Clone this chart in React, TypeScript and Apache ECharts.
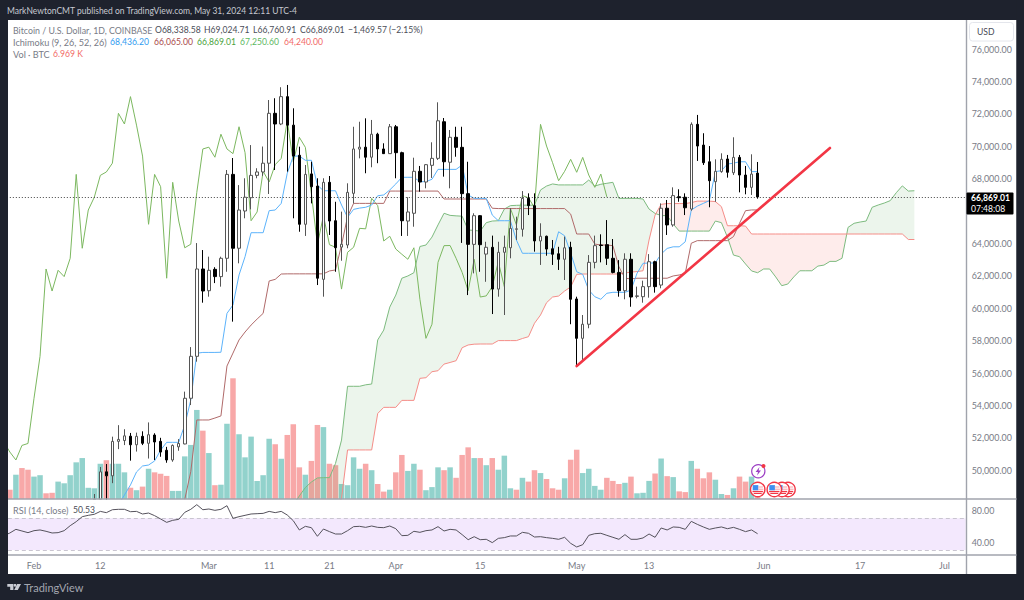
import React, { useEffect, useRef } from "react";
import * as echarts from "echarts";

const FONT = "Lato, 'Open Sans', sans-serif";

// Day numbers count from 1 Feb 2024 = 0; the axis runs from day -5 to day 154.
const FIRST_DAY = -5;
const DAY_COUNT = 160;

const tickDates = ["2024-02-01","2024-02-12","2024-03-01","2024-03-11","2024-03-21","2024-04-01","2024-04-15","2024-05-01","2024-05-13","2024-06-01","2024-06-17","2024-07-01"];
const tickLabels = ["Feb","12","Mar","11","21","Apr","15","May","13","Jun","17","Jul"];

// Candles, from day 10 to day 120
const CANDLE_START = 10;
const opens = [48000,48200,49900,49650,51780,51830,52100,51570,52090,51660,52170,51780,51230,50630,51440,51620,54440,57030,62420,61080,62400,61950,63080,68260,63700,66000,66820,68200,68410,68950,72030,71370,73060,71300,69440,65180,68290,67540,61780,67770,65400,63770,63900,67090,69820,69940,69320,70740,69830,69540,71200,69600,65380,65860,68450,67790,68820,69250,71510,69010,70550,69930,67070,63940,65710,63340,63760,61180,63450,63730,64870,64870,66780,66330,64150,64440,63670,63360,63020,63760,60570,58140,59010,62830,63900,63920,63080,62210,61080,63020,60730,60710,61330,62870,61430,66170,65140,66880,66850,66120,71350,70070,69040,67810,68430,69210,68360,69310,68220,67460,68338.58];
const closes = [48200,49900,49650,51780,51900,52120,51570,52090,51660,52190,51740,51120,50630,51530,51650,54440,57030,62420,61060,62340,61950,63080,68260,63700,66060,66850,68200,68410,68950,72030,71370,73060,71300,69390,65180,68260,67500,61850,67770,65380,63730,63950,67150,69830,69940,69320,70740,69830,69540,71200,69600,65400,65940,68450,67790,68860,69250,71570,69040,70550,69930,67070,63940,65710,63920,63760,61180,63450,63760,64930,64900,66780,66330,64150,64440,63650,63330,63020,63730,60550,58140,59010,62830,63860,63870,63080,62210,61080,63020,60690,60760,61330,62870,61330,66170,65140,66950,66820,66200,71350,70010,68980,67870,68450,69190,68390,69310,68220,67460,68280,66869.01];
const lows = [48000,48000,48000,49200,51300,51550,50590,51150,51550,50720,50630,50830,50460,50520,51200,51600,54020,56700,60340,60710,61550,61330,62250,59170,62770,65550,66100,68020,68170,67050,68530,71300,68430,65550,64720,64460,66470,61430,60710,64520,62250,62930,63700,66470,69250,68330,68700,68950,69520,69520,68020,64460,64460,65030,67190,67400,68040,69150,68120,67400,69350,64030,60810,62150,62250,61630,59640,60710,59580,63080,64210,64420,65750,63490,62670,63240,62670,62360,61740,59010,56430,56700,58760,62460,62830,62670,62150,60710,60550,60090,60610,60340,60650,60960,61230,64520,65030,66570,65750,66020,69090,68840,66230,66570,68360,68060,68220,67150,67030,66990,66760.91];
const highs = [48530,50200,50380,52070,52780,52530,52300,52320,52400,52950,52280,52000,51440,51590,51920,54850,57600,64020,63590,63180,62530,63180,68530,69270,67600,68020,70070,68640,69980,72850,72960,73640,73780,72340,69970,68840,69040,68020,68020,68160,66570,65960,67710,71200,71510,71720,71620,70830,70180,71370,71310,69660,66850,69290,68780,68900,70240,72710,71740,71000,71200,71200,69040,65860,65750,64100,64480,64100,64480,66170,65650,67230,67090,67090,65240,64480,64210,63790,64420,64100,60710,59580,63280,64480,64560,65440,64270,62970,63390,63390,61330,61700,63340,62930,66470,66680,67460,67340,67090,71470,71930,70800,70010,69190,69560,69460,70550,69460,68780,69500,69024.71];

// Ichimoku conversion line, from day 14
const CONVERSION_START = 14;
const conversionLine = [47850,48470,49090,49890,50260,50320,50570,51240,51720,51720,51720,52790,54330,57220,57270,57270,57270,57280,59680,60200,62050,63180,64660,64660,64660,66020,66060,66470,68330,69390,69390,69130,69130,67600,67250,67250,67250,66370,65610,66100,66180,66230,66370,66940,66990,67300,67670,68080,68080,68080,67810,67810,67960,68570,68570,68570,68570,68840,66990,66780,66780,66780,65750,65400,65400,65400,64210,63390,63390,63390,63390,63390,63390,64720,64470,63410,62250,62090,61120,60710,60550,60920,60980,60980,60980,61120,62150,62770,62790,62790,63340,63690,63790,63790,64100,66060,66300,66470,66640,68430,68490,68900,68950,69040,69040,68430,68436.2];

// Ichimoku base line, from day 25
const BASE_START = 25;
const baseLine = [48200,49910,53100,53100,53100,53220,53350,56430,57230,58040,58530,58960,59330,59680,61680,61780,62110,62120,62120,62120,62120,62120,62120,62120,62300,62360,63900,65650,66470,66470,66470,66470,66470,66470,67230,67230,67230,67230,67230,67230,67230,67230,67230,66740,66740,66740,66740,66740,66740,66740,66740,66170,66150,66150,66150,66150,66150,66150,66150,66150,66150,66150,66150,66150,65810,64580,64580,64580,63960,63900,63900,63860,62560,61850,61810,61850,61850,61850,61850,61850,61850,61990,62050,62150,64010,64170,64170,64170,64170,64170,64170,64420,65240,66020,66065,66065];

// Ichimoku leading span A, from day 43
const SPAN_A_START = 43;
const spanA = [47850,48410,48930,49270,49520,49540,49540,50420,51860,55180,55180,55180,55270,55320,58040,58650,60070,60810,61850,61990,62190,63810,63900,64390,65140,65860,65730,65700,65680,64830,64800,64760,65280,65380,65400,66120,66330,66350,66360,66360,66360,67300,67540,67670,67610,67610,67610,67610,67610,67910,67540,67650,67710,67770,66780,66780,66780,66780,66740,66120,65850,65720,65710,65200,64760,64760,64760,64760,64760,64760,65380,65280,64390,63280,63180,62730,62300,62190,62420,62420,61930,61390,61490,61930,62310,62310,62310,62600,62660,62890,62890,63080,64990,65240,65320,65380,66230,66370,66490,66640,67130,67550,67230,67250.6];

// Ichimoku leading span B, from day 43
const SPAN_B_START = 43;
const spanB = [47000,47000,47000,47000,47000,47000,47000,47400,48270,51250,51250,51250,51250,51250,53500,53880,53880,53880,54310,54310,54310,55670,55710,56080,56140,56550,56650,56760,57560,57730,57780,57790,57790,57790,58000,58000,58000,58000,58130,58240,59070,59580,60340,60690,60750,61060,61310,62090,62110,62110,62110,62110,62110,62110,62110,62170,62230,62260,62310,64210,65750,66410,66460,66460,66460,66460,66520,66610,66610,66610,66580,66270,65090,65090,65090,65070,64580,64580,64580,64580,64580,64580,64580,64580,64580,64580,64580,64580,64580,64580,64580,64580,64580,64580,64580,64580,64580,64580,64580,64580,64580,64580,64240,64240];

// Volume in thousands of BTC, from day -4
const VOLUME_START = -4;
const volumes = [3.9,10.2,13,12.3,9.4,10,2.4,2.6,7.3,6.6,10,15.4,17.2,4.7,4.5,14.8,16.3,14.8,14.8,11.2,4.7,3.7,5.2,12.7,11.2,10.6,9.7,3.4,3.4,17.9,22.7,37.4,28.7,19.3,5.8,6,31.6,50.7,27.2,17.5,26.2,7.6,10,25.3,23,16.9,26.9,31.4,13.3,10.2,16,31.1,30.2,14.8,14.2,6.3,5.8,17.5,12.7,14.8,12.1,6.3,3.1,3.9,11.2,18.5,11.8,14.8,12.3,3.7,5,13.3,12.1,13.3,8.9,18.5,21.7,17.2,17.2,14.2,17.2,12.3,18.2,4.5,3.9,8.9,7.3,12.1,10.9,8.4,4.5,3.9,8.7,16.5,20.7,10.9,12.7,5.5,3.9,8.9,7.6,6.3,6.8,9.4,2.4,2.6,7.6,10.7,17,9.6,9.2,3.2,2.9,16,12.7,8.7,11.2,8.1,2.1,1.7,4.5,9.4,7.3,9.4,6.969];
const volumeDirections = "RTRRTTRRTTTTTTTTRTTTRTRTRRRTTTTTRTRTTRTTTTTTRTRRRTRRTRRTTTTRTRRTRRTTRTTTRTRRRTRTRTTTRTRRTRRRTRRTTTTRRRTRTTTRTRTRRTRRRTTRTRRTR";

// RSI, from day -5
const RSI_START = -5;
const rsiValues = [48.1,51.5,56.1,54,51.9,54.4,55.3,53.6,51.5,51.9,54.4,60.7,65.8,72.1,73.8,75.1,78.8,77.2,80.9,81.4,81.4,78.4,78.8,75.5,76.7,73.4,69.2,64.9,67.5,68.7,77.6,81.4,87.3,80.9,81.8,80.1,81.4,86,70,72.1,73.8,75.5,75.9,76.3,78.8,77.2,78.8,74.2,67,55.3,59.9,58.2,47.3,56.5,53.2,50.2,50.2,54.4,59.5,59.9,58.6,60.3,58.6,58.2,60.3,56.9,48.1,48.5,53.6,52.3,54.4,55.3,59.5,54,56.1,55.3,49.4,43,46.8,43,43.5,39.3,44.7,45.6,47.7,47.7,52.3,51.1,46.4,46.8,45.6,44.7,43.5,46,38.4,33.8,36.7,48.5,50.6,51.1,48.5,46,43.5,49.4,43.5,43.5,45.2,50.2,46,57.8,55.3,59.1,58.6,56.1,66.2,62.4,59.1,56.1,57.8,59.1,56.9,58.6,56.1,53.2,55.3,50.53];

const trendDays = [90, 132];
const trendPrices = [56430, 69890];

const lastPrice = 66869.01;
const priceTicksHidden = [48000, 66000, 78000];

const pad = (start: number, values: number[]) => {
  const out: (number | null)[] = new Array(DAY_COUNT).fill(null);
  values.forEach((v, i) => {
    const idx = start + i - FIRST_DAY;
    if (idx >= 0 && idx < DAY_COUNT) out[idx] = v;
  });
  return out;
};

const categories: string[] = [];
for (let i = 0; i < DAY_COUNT; i++) {
  const d = new Date(Date.UTC(2024, 1, 1 + FIRST_DAY + i));
  categories.push(d.toISOString().slice(0, 10));
}

// Layout
const LEFT = 0.835;
const WIDTH = 964.8;
const PANE_L = 8;
const PANE_R = 1016.5;
const AXIS_X = 966.5;
const PANE_T = 20;
const MAIN_B = 499;
const RSI_B = 555;
const PANE_B = 574;

const GREY = "#787b86";
const DARK = "#4a4d57";
const BG = "#1e222d";
const NUM_SIZE = 8.6;

function txt(x: number, y: number, text: string, fill: string, size = NUM_SIZE, weight = "") {
  return {
    type: "text", x, y, z: 110, silent: true,
    style: { text, fill, font: `${weight} ${size}px ${FONT}`.trim(), textVerticalAlign: "middle" },
  };
}
function rect(x: number, y: number, width: number, height: number, fill: string, z: number) {
  return { type: "rect", z, silent: true, shape: { x, y, width, height }, style: { fill } };
}
function line(x1: number, y1: number, x2: number, y2: number, stroke: string, w: number, z: number) {
  return { type: "line", z, silent: true, shape: { x1, y1, x2, y2 }, style: { stroke, lineWidth: w } };
}
function flag(cx: number, cy: number, z: number) {
  return {
    type: "group", z,
    children: [
      { type: "circle", z, silent: true, shape: { cx, cy, r: 7.2 }, style: { fill: "#ffffff", stroke: "#f23645", lineWidth: 1.4 } },
      rect(cx - 5, cy - 4.4, 5.6, 5.2, "#3f8ff0", z + 0.1),
      rect(cx + 0.6, cy - 3, 4.6, 1, "#f7a0a6", z + 0.1),
      rect(cx + 0.6, cy - 0.8, 5, 1, "#f7a0a6", z + 0.1),
      rect(cx - 5.2, cy + 1.4, 10.4, 1.3, "#f23645", z + 0.1),
      rect(cx - 4, cy + 3.4, 8, 1.1, "#f23645", z + 0.1),
    ],
  };
}

export default function App() {
  const ref = useRef<HTMLDivElement>(null);
  useEffect(() => {
    const chart = echarts.init(ref.current!, undefined, { renderer: "svg" });

    const candleData: any[] = new Array(DAY_COUNT).fill("-");
    opens.forEach((o, i) => {
      candleData[CANDLE_START + i - FIRST_DAY] = [o, closes[i], lows[i], highs[i]];
    });
    const lagging = pad(CANDLE_START - 25, closes);
    const spanAFull = pad(SPAN_A_START, spanA);
    const spanBFull = pad(SPAN_B_START, spanB);
    const volumeData: any[] = pad(VOLUME_START, volumes).map((v, i) => {
      if (v == null) return "-";
      const dir = volumeDirections[i + FIRST_DAY - VOLUME_START];
      return { value: v, itemStyle: { color: dir === "T" ? "rgba(38,166,154,0.5)" : "rgba(242,82,82,0.5)" } };
    });
    const trend: (number | null)[] = new Array(DAY_COUNT).fill(null);
    trendDays.forEach((d, i) => { trend[d - FIRST_DAY] = trendPrices[i]; });

    const cloudItem = (_: any, api: any) => {
      const runs: { color: string; points: number[][] }[] = [];
      let upper: number[][] = [];
      let lower: number[][] = [];
      let sign = 0;
      const flush = () => {
        if (upper.length > 1) {
          runs.push({
            color: sign > 0 ? "rgba(67,160,71,0.1)" : "rgba(244,67,54,0.1)",
            points: upper.concat(lower.slice().reverse()),
          });
        }
        upper = [];
        lower = [];
      };
      for (let i = 0; i < DAY_COUNT; i++) {
        const a = spanAFull[i];
        const b = spanBFull[i];
        if (a == null || b == null) continue;
        const pa = api.coord([i, a]);
        const pb = api.coord([i, b]);
        const s = a >= b ? 1 : -1;
        if (sign !== 0 && s !== sign) {
          const prevA = spanAFull[i - 1] as number;
          const prevB = spanBFull[i - 1] as number;
          const t = (prevA - prevB) / (prevA - prevB - (a - b));
          const cross = api.coord([i - 1, prevA + (a - prevA) * t]);
          const x0 = api.coord([i - 1, prevA])[0];
          const pt = [x0 + (pa[0] - x0) * t, cross[1]];
          upper.push(pt);
          lower.push(pt);
          flush();
          upper.push(pt);
          lower.push(pt);
        }
        sign = s;
        upper.push(pa);
        lower.push(pb);
      }
      flush();
      return {
        type: "group",
        children: runs.map((r) => ({
          type: "polygon",
          silent: true,
          shape: { points: r.points },
          style: { fill: r.color },
        })),
      };
    };

    const lineSeries = (name: string, data: any[], color: string) => ({
      name, type: "line", data, xAxisIndex: 0, yAxisIndex: 0, z: 4,
      showSymbol: false, symbol: "none", silent: true,
      lineStyle: { color, width: 1 },
    });

    const xBase = { type: "category", data: categories, boundaryGap: true, axisTick: { show: false }, axisLine: { show: false }, splitLine: { show: false } };

    chart.setOption({
      animation: false,
      backgroundColor: BG,
      textStyle: { fontFamily: FONT },
      grid: [
        { left: LEFT, width: WIDTH, top: 16.6, height: 486 },
        { left: LEFT, width: WIDTH, top: 299, height: 200 },
        { left: LEFT, width: WIDTH, top: 478.8, height: 94.9 },
        { left: LEFT, width: WIDTH, top: 555, height: 1 },
      ],
      xAxis: [
        { ...xBase, gridIndex: 0, axisLabel: { show: false } },
        { ...xBase, gridIndex: 1, axisLabel: { show: false } },
        { ...xBase, gridIndex: 2, axisLabel: { show: false } },
        {
          ...xBase, gridIndex: 3,
          axisLabel: {
            show: true, margin: 5, fontSize: 9, color: GREY, fontFamily: FONT,
            interval: (_: number, v: string) => tickDates.includes(v),
            formatter: (v: string) => tickLabels[tickDates.indexOf(v)] ?? "",
          },
        },
      ],
      yAxis: [
        {
          type: "value", gridIndex: 0, position: "right", min: 48000, max: 78000, interval: 2000, scale: true,
          splitLine: { show: false }, axisLine: { show: false }, axisTick: { show: false },
          axisLabel: {
            show: true, margin: 6, fontSize: 8.9, color: GREY, fontFamily: FONT, align: "left",
            formatter: (v: number) => priceTicksHidden.includes(v) ? "" : v.toLocaleString("en-US", { minimumFractionDigits: 2 }),
          },
        },
        { type: "value", gridIndex: 1, min: 0, max: 84, show: false, splitLine: { show: false } },
        {
          type: "value", gridIndex: 2, position: "right", min: 0, max: 120, interval: 40,
          splitLine: { show: false }, axisLine: { show: false }, axisTick: { show: false },
          axisLabel: {
            show: true, margin: 6, fontSize: 8.9, color: GREY, fontFamily: FONT, align: "left",
            formatter: (v: number) => (v === 40 || v === 80 ? v.toFixed(2) : ""),
          },
        },
        { type: "value", gridIndex: 3, min: 0, max: 1, show: false, splitLine: { show: false } },
      ],
      series: [
        {
          name: "Vol", type: "bar", xAxisIndex: 1, yAxisIndex: 1, data: volumeData, barWidth: 5.5, z: 2, silent: true,
        },
        {
          name: "Cloud", type: "custom", xAxisIndex: 0, yAxisIndex: 0, data: [[0, 60000]], z: 3, silent: true, clip: true,
          renderItem: cloudItem, encode: { x: 0, y: 1 },
        },
        lineSeries("Span A", spanAFull, "#7dbb7f"),
        lineSeries("Span B", spanBFull, "#f58d88"),
        lineSeries("Lagging", lagging, "#7cb860"),
        lineSeries("Base", pad(BASE_START, baseLine), "#b06a6a"),
        lineSeries("Conversion", pad(CONVERSION_START, conversionLine), "#5cb3fb"),
        {
          name: "BTCUSD", type: "candlestick", xAxisIndex: 0, yAxisIndex: 0, data: candleData, z: 5, silent: true,
          barWidth: 3,
          itemStyle: { color: "#ffffff", color0: "#000000", borderColor: "#555555", borderColor0: "#000000", borderWidth: 1 },
          markLine: {
            silent: true, symbol: "none", animation: false,
            label: { show: false },
            lineStyle: { color: "#444444", type: [1, 2], width: 1 },
            data: [{ yAxis: lastPrice }],
          },
        },
        {
          name: "Trend", type: "line", xAxisIndex: 0, yAxisIndex: 0, data: trend, z: 6, silent: true,
          connectNulls: true, showSymbol: false, symbol: "none",
          lineStyle: { color: "#f23645", width: 2.6, cap: "round" },
        },
        {
          name: "RSI", type: "line", xAxisIndex: 2, yAxisIndex: 2, data: pad(RSI_START, rsiValues), z: 8, silent: true,
          showSymbol: false, symbol: "none",
          lineStyle: { color: "#55525c", width: 1 },
          markArea: {
            silent: true, itemStyle: { color: "#f3e8fd" }, label: { show: false },
            data: [[{ yAxis: 70 }, { yAxis: 30 }]],
          },
          markLine: {
            silent: true, symbol: "none", label: { show: false },
            lineStyle: { color: "#c9c5d0", type: [4, 3], width: 1 },
            data: [{ yAxis: 70 }, { yAxis: 30 }],
          },
        },
      ],
      graphic: {
        elements: [
          rect(PANE_L, PANE_T, PANE_R - PANE_L, PANE_B - PANE_T, "#ffffff", 0),
          // hides what the price pane draws below its floor
          rect(PANE_L, MAIN_B + 0.5, AXIS_X - PANE_L, 4, "#ffffff", 7),
          // page frame
          rect(0, 0, PANE_L, 600, BG, 100),
          rect(0, 0, 1024, PANE_T, BG, 100),
          rect(PANE_R, 0, 1024 - PANE_R, 600, BG, 100),
          rect(0, PANE_B, 1024, 600 - PANE_B, BG, 100),
          // pane rules
          line(AXIS_X, PANE_T, AXIS_X, PANE_B, "#a0a3ac", 1.4, 101),
          line(PANE_L, MAIN_B, PANE_R, MAIN_B, "#a0a3ac", 1.4, 101),
          line(PANE_L, RSI_B, PANE_R, RSI_B, "#a0a3ac", 1.4, 101),
          // header
          txt(7, 11, "MarkNewtonCMT published on TradingView.com, May 31, 2024 12:11 UTC-4", "#c6c9d1", 8.5),
          // legend
          txt(13, 30, "Bitcoin / U.S. Dollar, 1D, COINBASE", GREY, 8.8),
          txt(155, 30, "O68,338.58", DARK),
          txt(204, 30, "H69,024.71", DARK),
          txt(253, 30, "L66,760.91", DARK),
          txt(300, 30, "C66,869.01", DARK),
          txt(348, 30, "\u22121,469.57 (\u22122.15%)", DARK),
          txt(13, 42, "Ichimoku (9, 26, 52, 26)", GREY, 9.1),
          txt(110, 42, "68,436.20", "#2f9bf0"),
          txt(154, 42, "66,065.00", "#a94a4a"),
          txt(197, 42, "66,869.01", "#4aa23c"),
          txt(240, 42, "67,250.60", "#5cb860"),
          txt(284, 42, "64,240.00", "#f26a66"),
          txt(13, 54, "Vol \u00b7 BTC", GREY, 9.1),
          txt(53, 54, "6.969 K", "#f26a66"),
          txt(13, 510, "RSI (14, close)", GREY, 9.1),
          txt(73, 510, "50.53", DARK),
          // USD box
          { type: "rect", z: 105, silent: true, shape: { x: 969.5, y: 22.5, width: 44, height: 18.5, r: 3 }, style: { fill: "#ffffff", stroke: "#e4e6ec", lineWidth: 1 } },
          txt(977, 32, "USD", DARK),
          // last price tag
          { type: "rect", z: 105, silent: true, shape: { x: 966.5, y: 192.5, width: 47, height: 22, r: 1 }, style: { fill: "#000000" } },
          txt(971, 198, "66,869.01", "#ffffff", NUM_SIZE, "bold"),
          txt(971, 208.5, "07:48:08", "#ffffff"),
          // event markers
          { type: "circle", z: 102, silent: true, shape: { cx: 758.3, cy: 471.3, r: 6.6 }, style: { fill: "#ffffff", stroke: "#9c3fc4", lineWidth: 1.2 } },
          { type: "polygon", z: 103, silent: true, shape: { points: [[759.5, 467], [755.6, 472], [758, 472], [757, 475.6], [761, 470.4], [758.6, 470.4]] }, style: { fill: "#9c3fc4" } },
          { type: "circle", z: 103, silent: true, shape: { cx: 763.5, cy: 466, r: 2 }, style: { fill: "#f23645" } },
          flag(788, 489.5, 102),
          flag(782, 489.5, 103),
          flag(774.3, 489.5, 104),
          flag(757.7, 489.5, 105),
          // brand
          { type: "polygon", z: 110, silent: true, shape: { points: [[7.3, 584], [13.4, 584], [13.4, 590], [10.2, 590], [10.2, 586.8], [7.3, 586.8]] }, style: { fill: "#c9ccd4" } },
          { type: "circle", z: 110, silent: true, shape: { cx: 15, cy: 585.3, r: 1.4 }, style: { fill: "#c9ccd4" } },
          { type: "polygon", z: 110, silent: true, shape: { points: [[17.2, 584], [21, 584], [17.8, 590], [14.2, 590]] }, style: { fill: "#c9ccd4" } },
          txt(24, 587.5, "TradingView", "#a3a6af", 11),
        ],
      },
    });
    return () => chart.dispose();
  }, []);
  return <div ref={ref} style={{ position: "fixed", left: 0, top: 0, width: 1024, height: 600 }} />;
}
